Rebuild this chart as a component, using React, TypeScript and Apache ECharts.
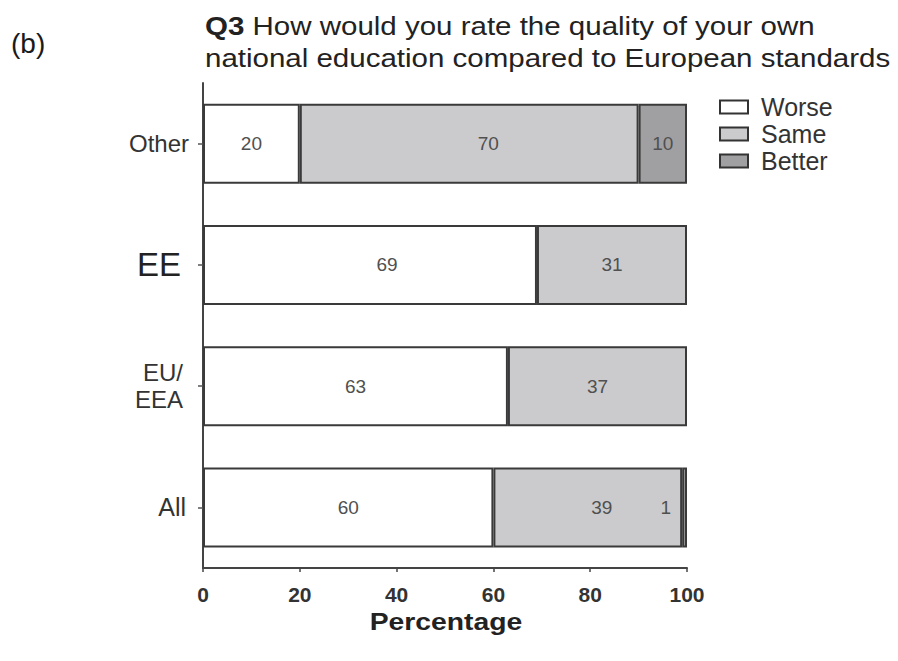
import React, { useEffect, useRef } from "react";
import * as echarts from "echarts";

const categories = ["All", "EU/EEA", "EE", "Other"];
const worse = [60, 63, 69, 20];
const same = [39, 37, 31, 70];
const better: (number | null)[] = [1, null, null, 10];
const xTicks = [0, 20, 40, 60, 80, 100];
const legendNames = ["Worse", "Same", "Better"];

const FONT = "'Liberation Sans', Arial, Helvetica, sans-serif";

export default function App() {
  const ref = useRef<HTMLDivElement>(null);
  useEffect(() => {
    if (!ref.current) return;
    const chart = echarts.init(ref.current, undefined, { renderer: "svg" });
    const border = { borderColor: "#3a3a3a", borderWidth: 2 };
    const labelBase = {
      show: true,
      position: "inside",
      color: "#505050",
      fontSize: 19,
      fontFamily: FONT,
    };
    const worseData = worse.map((v, i) =>
      categories[i] === "EE"
        ? { value: v, label: { offset: [17, 0] } }
        : { value: v }
    );
    const sameData = same.map((v, i) =>
      categories[i] === "Other"
        ? { value: v, label: { offset: [19, 0] } }
        : categories[i] === "All"
        ? { value: v, label: { offset: [14, 0] } }
        : { value: v }
    );
    const betterData = better.map((v, i) =>
      v === null
        ? "-"
        : categories[i] === "All"
        ? { value: v, label: { position: "left", distance: 11 } }
        : { value: v }
    );
    const yRich: any = {
      other: { fontSize: 24, color: "#333", fontFamily: FONT, padding: [0, 2, 0, 0] },
      ee: { fontSize: 33, color: "#222", fontFamily: FONT, padding: [0, 10, 0, 0] },
      eu: { fontSize: 24, color: "#333", fontFamily: FONT, lineHeight: 27, padding: [0, 8, 0, 0] },
      all: { fontSize: 25, color: "#333", fontFamily: FONT, padding: [0, 5, 0, 0] },
    };
    chart.setOption({
      animation: false,
      backgroundColor: "#ffffff",
      grid: { left: 203, right: 211, top: 83, bottom: 93, containLabel: false },
      legend: {
        data: legendNames,
        orient: "vertical",
        left: 714,
        top: 89,
        itemWidth: 28,
        itemHeight: 13,
        itemGap: 1,
        icon: "rect",
        itemStyle: { borderColor: "#333", borderWidth: 2 },
        textStyle: {
          fontSize: 25,
          lineHeight: 26,
          color: "#333",
          fontFamily: FONT,
          padding: [0, 0, 0, 8],
        },
      },
      xAxis: {
        type: "value",
        min: 0,
        max: 100,
        interval: 20,
        axisLine: { show: true, lineStyle: { color: "#444", width: 2 } },
        axisTick: { show: true, length: 4, lineStyle: { color: "#444", width: 1.5 } },
        splitLine: { show: false },
        axisLabel: {
          fontSize: 21,
          fontWeight: "bold",
          color: "#333",
          fontFamily: FONT,
          margin: 16,
          formatter: (v: number) => (xTicks.includes(v) ? String(v) : ""),
        },
      },
      yAxis: {
        type: "category",
        data: categories,
        axisLine: { show: true, lineStyle: { color: "#444", width: 2 } },
        axisTick: { show: true, alignWithLabel: true, length: 5, lineStyle: { color: "#555", width: 1.5 } },
        axisLabel: {
          margin: 12,
          formatter: (v: string) => {
            if (v === "Other") return "{other|Other}";
            if (v === "EE") return "{ee|EE}";
            if (v === "EU/EEA") return "{eu|EU/}\n{eu|EEA}";
            return "{all|All}";
          },
          rich: yRich,
        },
      },
      series: [
        {
          name: "Worse",
          type: "bar",
          stack: "t",
          barWidth: 80,
          data: worseData,
          itemStyle: { color: "#ffffff", ...border },
          label: labelBase,
        },
        {
          name: "Same",
          type: "bar",
          stack: "t",
          barWidth: 80,
          data: sameData,
          itemStyle: { color: "#cbcbcd", ...border },
          label: labelBase,
        },
        {
          name: "Better",
          type: "bar",
          stack: "t",
          barWidth: 80,
          data: betterData,
          itemStyle: { color: "#a0a0a2", ...border },
          label: labelBase,
        },
      ],
      graphic: [
        {
          type: "text",
          x: 11,
          y: 43,
          style: {
            text: "(b)",
            fontSize: 28,
            fontFamily: FONT,
            fill: "#1a1a1a",
            textVerticalAlign: "middle",
          },
        },
        {
          type: "text",
          x: 205,
          y: 10,
          scaleX: 1.18,
          style: {
            text: "{b|Q3} How would you rate the quality of your own\nnational education compared to European standards",
            fontSize: 25,
            lineHeight: 32,
            fontFamily: FONT,
            fill: "#222",
            rich: {
              b: { fontWeight: "bold", fontSize: 25, fontFamily: FONT, fill: "#222" },
            },
          },
        },
        {
          type: "text",
          x: 446,
          y: 622,
          scaleX: 1.18,
          style: {
            text: "Percentage",
            fontSize: 24,
            fontWeight: "bold",
            fontFamily: FONT,
            fill: "#222",
            textAlign: "center",
            textVerticalAlign: "middle",
          },
        },
      ],
    });
    return () => chart.dispose();
  }, []);
  return <div ref={ref} style={{ width: 898, height: 661, margin: -8 }} />;
}
